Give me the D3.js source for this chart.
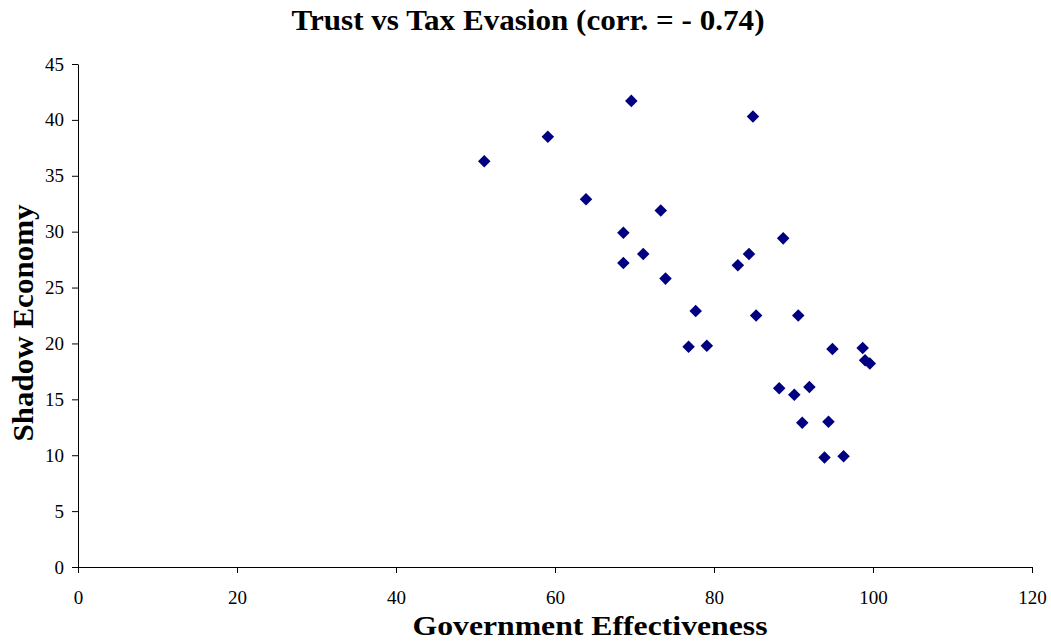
<!DOCTYPE html>
<html>
<head>
<meta charset="utf-8">
<script src="https://cdn.jsdelivr.net/npm/d3@7"></script>
<style>
  body { margin: 0; background: #fff; }
  svg text { font-family: "Liberation Serif", "Times New Roman", serif; fill: #000; }
</style>
</head>
<body>
<div id="chart"></div>
<script>
const width = 1051;
const height = 641;

// Government Effectiveness (x) and Shadow Economy (y)
const govEffectiveness = [
  51.1, 59.1, 69.6, 84.9, 63.9, 73.3, 68.6, 71.1, 68.6, 73.9,
  88.7, 84.4, 83.0, 77.7, 85.3, 90.6, 76.8, 79.1, 94.9, 98.7,
  99.0, 99.6, 88.2, 90.1, 92.0, 91.1, 94.4, 93.9, 96.3
];
const shadowEconomy = [
  36.3, 38.5, 41.7, 40.3, 32.9, 31.9, 29.9, 28.0, 27.2, 25.8,
  29.4, 28.0, 27.0, 22.9, 22.5, 22.5, 19.7, 19.8, 19.5, 19.6,
  18.5, 18.2, 16.0, 15.4, 16.1, 12.9, 13.0, 9.8, 9.9
];
const xTicks = [0, 20, 40, 60, 80, 100, 120];
const yTicks = [0, 5, 10, 15, 20, 25, 30, 35, 40, 45];

const margin = { top: 64, right: 19, bottom: 74, left: 78 };
const innerW = width - margin.left - margin.right;
const innerH = height - margin.top - margin.bottom;

const svg = d3.select("#chart")
  .append("svg")
  .attr("width", width)
  .attr("height", height);

const g = svg.append("g")
  .attr("transform", `translate(${margin.left},${margin.top})`);

const x = d3.scaleLinear().domain([0, 120]).range([0, innerW]);
const y = d3.scaleLinear().domain([0, 45]).range([innerH, 0]);

// axes
const xAxis = g.append("g")
  .attr("transform", `translate(0,${innerH})`)
  .call(d3.axisBottom(x).tickValues(xTicks).tickSize(6).tickPadding(18).tickSizeOuter(0));

const yAxis = g.append("g")
  .call(d3.axisLeft(y).tickValues(yTicks).tickSize(6).tickPadding(8).tickSizeOuter(0));

[xAxis, yAxis].forEach(a => {
  a.attr("font-size", null).attr("font-family", null);
  a.select(".domain").attr("stroke", "#000").attr("stroke-width", 1);
  a.selectAll(".tick line").attr("stroke", "#000");
  a.selectAll(".tick text")
    .style("font-size", "19px")
    .attr("fill", "#000");
});

// points
const points = govEffectiveness.map((v, i) => ({ x: v, y: shadowEconomy[i] }));
const diamond = d3.symbol().type(d3.symbolDiamond2).size(100);

g.append("g")
  .selectAll("path")
  .data(points)
  .join("path")
  .attr("d", diamond)
  .attr("transform", d => `translate(${x(d.x)},${y(d.y)})`)
  .attr("fill", "#000080");

// title
svg.append("text")
  .attr("x", 528)
  .attr("y", 30)
  .attr("text-anchor", "middle")
  .attr("textLength", 473)
  .attr("lengthAdjust", "spacingAndGlyphs")
  .style("font-size", "29px")
  .style("font-weight", "bold")
  .text("Trust vs Tax Evasion (corr. = - 0.74)");

// axis titles
svg.append("text")
  .attr("x", 590)
  .attr("y", 635)
  .attr("text-anchor", "middle")
  .attr("textLength", 355)
  .attr("lengthAdjust", "spacingAndGlyphs")
  .style("font-size", "27px")
  .style("font-weight", "bold")
  .text("Government Effectiveness");

svg.append("text")
  .attr("transform", `translate(33,323) rotate(-90)`)
  .attr("text-anchor", "middle")
  .attr("textLength", 237)
  .attr("lengthAdjust", "spacingAndGlyphs")
  .style("font-size", "29px")
  .style("font-weight", "bold")
  .text("Shadow Economy");
</script>
</body>
</html>
